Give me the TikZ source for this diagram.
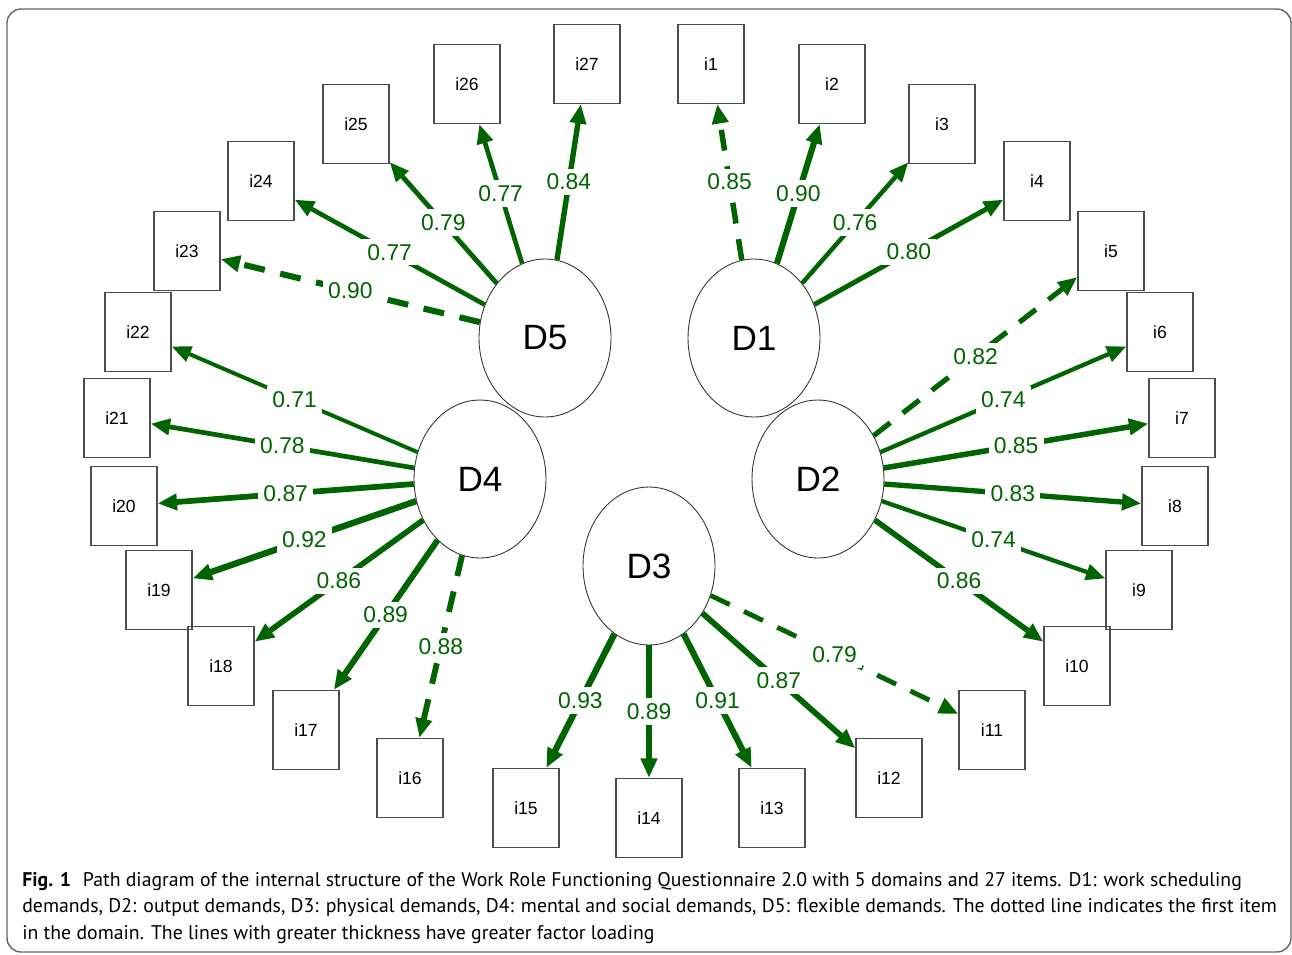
\documentclass[tikz,border=0pt]{standalone}
\usepackage{fontspec}
\setmainfont{Liberation Sans}
\newfontfamily\capfont{PT Sans}
\usetikzlibrary{arrows.meta,shapes.geometric}
\definecolor{loadgreen}{RGB}{0,100,0}

\begin{document}
\begin{tikzpicture}[x=0.02cm,y=-0.02cm,
    item/.style={draw=black!70,line width=0.8pt,minimum width=1.32cm,minimum height=1.58cm,inner sep=0pt,font=\fontsize{10}{12}\selectfont},
    factor/.style={ellipse,draw=black!80,line width=0.5pt,minimum width=2.64cm,minimum height=3.16cm,inner sep=0pt,font=\fontsize{20}{24}\selectfont},
    load/.style={draw=loadgreen,-{Triangle[length=11pt,width=9pt]}},
    first/.style={load,dash pattern=on 12pt off 9pt},
    val/.style={fill=white,text=loadgreen,inner sep=3pt,font=\fontsize{13}{15}\selectfont}]
    \useasboundingbox (0,0) rectangle (1292,954);
    \draw[black!60,line width=0.8pt,rounded corners=8pt] (7,9) rectangle (1291,952);
    \node[factor] (D1) at (754,338) {D1};
    \node[factor] (D2) at (818,479) {D2};
    \node[factor] (D3) at (649,566) {D3};
    \node[factor] (D4) at (480,479) {D4};
    \node[factor] (D5) at (545,338) {D5};
    \foreach \n/\x/\y in {1/711/64,2/832/84,3/942/124,4/1037/181,5/1111/251,6/1160/332,7/1182/418,8/1175/506,9/1139/590,10/1077/666,11/992/730,12/889/778,13/772/808,14/649/818,15/526/808,16/410/778,17/306/730,18/221/666,19/159/590,20/124/506,21/117/418,22/138/332,23/187/251,24/261/181,25/356/124,26/467/84,27/587/64}
        \node[item] (i\n) at (\x,\y) {i\n};
    \foreach \d/\n/\v in {1/2/0.90,1/3/0.76,1/4/0.80,2/6/0.74,2/7/0.85,2/8/0.83,2/9/0.74,2/10/0.86,3/12/0.87,3/13/0.91,3/14/0.89,3/15/0.93,4/17/0.89,4/18/0.86,4/19/0.92,4/20/0.87,4/21/0.78,4/22/0.71,5/24/0.77,5/25/0.79,5/26/0.77,5/27/0.84}{
        \pgfmathsetmacro\lw{(\v-0.36)*6.4}
        \draw[load,line width=\lw pt] (D\d) -- node[val] {\v} (i\n);
    }
    \foreach \d/\n/\v in {1/1/0.85,2/5/0.82,3/11/0.79,4/16/0.88,5/23/0.90}{
        \pgfmathsetmacro\lw{(\v-0.36)*6.4}
        \draw[first,line width=\lw pt] (D\d) -- node[val] {\v} (i\n);
    }
    \node[anchor=north west,align=left,inner sep=0pt,font=\capfont\fontsize{11.25}{15.1}\selectfont] (caption) at (22,872) {\textbf{Fig. 1}\hspace{0.6em}Path diagram of the internal structure of the Work Role Functioning Questionnaire 2.0 with 5 domains and 27 items. D1: work scheduling\\demands, D2: output demands, D3: physical demands, D4: mental and social demands, D5: flexible demands. The dotted line indicates the first item\\in the domain. The lines with greater thickness have greater factor loading};
\end{tikzpicture}
\end{document}
